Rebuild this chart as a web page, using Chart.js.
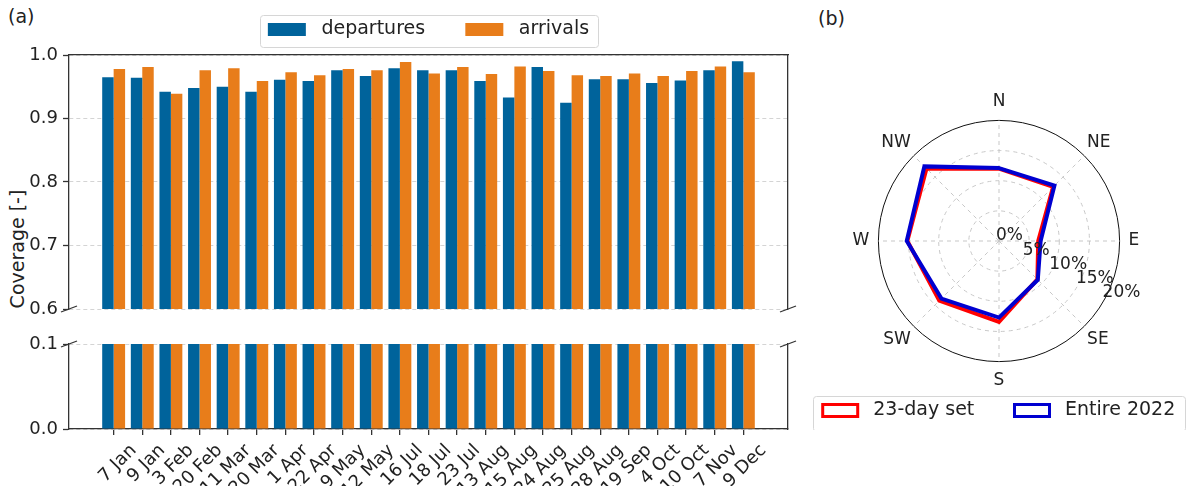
<!DOCTYPE html>
<html>
<head>
<meta charset="utf-8">
<script src="https://cdn.jsdelivr.net/npm/chart.js@4.4.1/dist/chart.umd.min.js"></script>
<style>
  body { margin: 0; background: #fff; }
  #figure { position: relative; width: 1194px; height: 486px; overflow: hidden; font-family: 'DejaVu Sans', sans-serif; color: #222; }
  .pane { position: absolute; }
  .tag { position: absolute; font-size: 19px; line-height: 1; }
  #ylabel { position: absolute; left: 17px; top: 249px; font-size: 19px; white-space: nowrap; transform: translate(-50%, -50%) rotate(-90deg); }
</style>
</head>
<body>
<div id="figure">
  <div class="tag" style="left:8px; top:7px">(a)</div>
  <div class="tag" style="left:818px; top:9px">(b)</div>
  <div id="ylabel">Coverage [-]</div>
  <div class="pane" style="left:0; top:10px; width:800px; height:305px"><canvas id="coverageUpper"></canvas></div>
  <div class="pane" style="left:0; top:334px; width:800px; height:152px"><canvas id="coverageLower"></canvas></div>
  <div class="pane" style="left:809px; top:91px; width:380px; height:339px"><canvas id="windRose"></canvas></div>
</div>
<script>
Chart.defaults.font.family = "'DejaVu Sans', sans-serif";
Chart.defaults.font.size = 18;
Chart.defaults.color = '#222';
Chart.defaults.animation = false;
Chart.defaults.plugins.tooltip.enabled = false;

// survey days and the share of flights covered on each of them
const dates = ['7 Jan', '9 Jan', '3 Feb', '20 Feb', '11 Mar', '20 Mar', '1 Apr', '22 Apr', '9 May', '12 May',
  '16 Jul', '18 Jul', '23 Jul', '13 Aug', '15 Aug', '24 Aug', '25 Aug', '28 Aug', '19 Sep', '4 Oct',
  '10 Oct', '7 Nov', '9 Dec'];
const departures = [0.965, 0.964, 0.942, 0.948, 0.950, 0.942, 0.961, 0.959, 0.976, 0.967,
  0.979, 0.976, 0.976, 0.959, 0.933, 0.981, 0.925, 0.962, 0.962, 0.956,
  0.960, 0.976, 0.990];
const arrivals = [0.978, 0.981, 0.939, 0.976, 0.979, 0.959, 0.973, 0.968, 0.978, 0.976,
  0.989, 0.971, 0.981, 0.970, 0.982, 0.975, 0.968, 0.967, 0.971, 0.967,
  0.975, 0.982, 0.973];

// wind direction frequency in percent
const directions = ['N', 'NE', 'E', 'SE', 'S', 'SW', 'W', 'NW'];
const share23Day = [12.0, 12.7, 6.5, 9.0, 13.4, 14.0, 15.2, 17.0];
const shareYear = [12.1, 13.0, 6.9, 9.1, 12.7, 13.5, 15.3, 17.5];

const BLUE = '#00639b';
const ORANGE = '#e87d1a';
const SPINE = '#333';
const GRID = '#d4d4d4';
const xPad = 1.56; // empty room left and right of the outer bar pairs, in day slots

const spine = { display: true, color: SPINE, width: 1.3 };

// swatch gap via a leading space, room before the next entry via trailing ones
const baseLabels = Chart.defaults.plugins.legend.labels.generateLabels;
function spacedLabels(extra) {
  return chart => baseLabels(chart)
    .sort((a, b) => a.datasetIndex - b.datasetIndex)
    .map((item, i, all) => Object.assign(item, extra, {
      text: ' ' + item.text + (i < all.length - 1 ? '     ' : '')
    }));
}

const legendFrame = {
  id: 'legendFrame',
  afterDraw(chart, args, opts) {
    const hits = chart.legend && chart.legend.legendHitBoxes;
    if (!hits || !hits.length) return;
    const first = hits[0];
    const last = hits[hits.length - 1];
    const x0 = Math.round(first.left - opts.left) + 0.5;
    const x1 = Math.round(last.left + last.width + opts.right) + 0.5;
    const y0 = Math.round(first.top - opts.top) + 0.5;
    const y1 = Math.round(first.top + first.height + opts.bottom) + 0.5;
    const ctx = chart.ctx;
    ctx.save();
    ctx.strokeStyle = '#d6d6d6';
    ctx.lineWidth = 1;
    ctx.beginPath();
    ctx.roundRect(x0, y0, x1 - x0, y1 - y0, 3);
    ctx.stroke();
    ctx.restore();
  }
};

// slanted marks where the value axis is cut
const axisBreak = {
  id: 'axisBreak',
  afterDraw(chart, args, opts) {
    const { left, right, top, bottom } = chart.chartArea;
    const y = opts.edge === 'top' ? top : bottom;
    const ctx = chart.ctx;
    ctx.save();
    ctx.strokeStyle = SPINE;
    ctx.lineWidth = 1.3;
    for (const x of [left, right]) {
      ctx.beginPath();
      ctx.moveTo(x - 8, y + 3);
      ctx.lineTo(x + 8, y - 3);
      ctx.stroke();
    }
    ctx.restore();
  }
};

// radial percentages written along a spoke between E and SE
const ringLabels = {
  id: 'ringLabels',
  afterDatasetsDraw(chart, args, opts) {
    const scale = chart.scales.r;
    const ctx = chart.ctx;
    ctx.save();
    ctx.font = "17px 'DejaVu Sans'";
    ctx.fillStyle = '#222';
    ctx.textAlign = 'left';
    ctx.textBaseline = 'middle';
    scale.ticks.forEach(t => {
      const p = scale.getPointPositionForValue(opts.spoke, t.value);
      ctx.fillText(t.label, p.x + opts.dx, p.y + opts.dy);
    });
    ctx.restore();
  }
};

function dayTicks(scale) {
  scale.ticks = dates.map((d, i) => ({ value: i }));
}

// keep the end tick labels from pushing the plot area around
function fixWidth(w) {
  return s => {
    s.width = w;
    s.paddingTop = 0;
    s.paddingBottom = 0;
  };
}

function makeBars() {
  const common = { categoryPercentage: 0.8, barPercentage: 1, xAxisID: 'x', yAxisID: 'y' };
  return [
    { ...common, label: 'departures', backgroundColor: BLUE, data: dates.map((d, i) => ({ x: i, y: departures[i] })) },
    { ...common, label: 'arrivals', backgroundColor: ORANGE, data: dates.map((d, i) => ({ x: i, y: arrivals[i] })) }
  ];
}

function valueAxis(min, max) {
  return {
    type: 'linear', position: 'left', min, max,
    ticks: { stepSize: 0.1, padding: 5, callback: v => v.toFixed(1) },
    grid: { color: GRID, lineWidth: 1, tickLength: 6, tickColor: SPINE, tickWidth: 1.3, tickBorderDash: [] },
    border: { ...spine, dash: [4, 3] },
    afterFit: fixWidth(69)
  };
}

const rightSpine = {
  type: 'linear', position: 'right',
  ticks: { display: false }, grid: { display: false }, border: spine,
  afterFit: fixWidth(12)
};

new Chart(document.getElementById('coverageUpper'), {
  type: 'bar',
  data: { datasets: makeBars() },
  options: {
    responsive: true,
    maintainAspectRatio: false,
    layout: { padding: { bottom: 6 } },
    scales: {
      x: {
        type: 'linear', display: false, offset: false,
        min: -xPad, max: dates.length - 1 + xPad,
        afterBuildTicks: dayTicks
      },
      xTop: {
        type: 'linear', position: 'top', offset: false,
        min: -xPad, max: dates.length - 1 + xPad,
        ticks: { display: false }, grid: { display: false }, border: spine,
        afterFit: s => { s.height = 6; }
      },
      y: valueAxis(0.6, 1.0),
      yRight: rightSpine
    },
    plugins: {
      legend: {
        position: 'top',
        fullSize: false,
        labels: { boxWidth: 38, boxHeight: 13, padding: 10, font: { size: 19 }, generateLabels: spacedLabels({}) }
      },
      legendFrame: { left: 7.5, right: 9, top: 5, bottom: 8 },
      axisBreak: { edge: 'bottom' }
    }
  },
  plugins: [legendFrame, axisBreak]
});

new Chart(document.getElementById('coverageLower'), {
  type: 'bar',
  data: { datasets: makeBars() },
  options: {
    responsive: true,
    maintainAspectRatio: false,
    layout: { padding: { top: 10 } },
    scales: {
      x: {
        type: 'linear', offset: false,
        min: -xPad, max: dates.length - 1 + xPad,
        afterBuildTicks: dayTicks,
        ticks: { autoSkip: false, minRotation: 45, maxRotation: 45, labelOffset: 20, padding: 5, callback: v => dates[v] ?? '' },
        grid: { offset: false, drawOnChartArea: false, color: SPINE, lineWidth: 1.3, tickLength: 6 },
        border: spine,
        afterFit: s => { s.height = 57; }
      },
      y: valueAxis(0, 0.1),
      yRight: rightSpine
    },
    plugins: {
      legend: { display: false },
      axisBreak: { edge: 'top' }
    }
  },
  plugins: [axisBreak]
});

const RING = '#c8c8c8';

new Chart(document.getElementById('windRose'), {
  type: 'radar',
  data: {
    labels: directions,
    datasets: [
      { label: '23-day set', data: share23Day, borderColor: '#ff0000', backgroundColor: 'rgba(255,255,255,0)', order: 1 },
      { label: 'Entire 2022', data: shareYear, borderColor: '#0000d0', backgroundColor: 'rgba(255,255,255,0)', order: 0 }
    ]
  },
  options: {
    responsive: true,
    maintainAspectRatio: false,
    elements: {
      point: { radius: 0, hoverRadius: 0 },
      line: { borderWidth: 4, tension: 0, fill: false, borderJoinStyle: 'miter' }
    },
    scales: {
      r: {
        min: 0, max: 20,
        ticks: { display: false, stepSize: 5, callback: v => v + '%' },
        grid: { circular: true, lineWidth: 1, color: c => (c.tick && c.tick.value === 20 ? '#111' : RING) },
        border: { dash: c => (c.tick && c.tick.value === 20 ? [] : [4, 4]) },
        angleLines: { color: RING, lineWidth: 1, borderDash: [4, 4] },
        pointLabels: { font: { size: 17 }, color: '#222', padding: c => (c.index % 2 ? 4 : 9) }
      }
    },
    plugins: {
      legend: {
        position: 'bottom',
        labels: { boxWidth: 35, boxHeight: 12, padding: 10, font: { size: 19 }, generateLabels: spacedLabels({ lineWidth: 3 }) }
      },
      legendFrame: { left: 10, right: 10, top: 5.5, bottom: 10.5 },
      ringLabels: { spoke: 2.62, dx: -3, dy: -5 }
    }
  },
  plugins: [legendFrame, ringLabels]
});
</script>
</body>
</html>
